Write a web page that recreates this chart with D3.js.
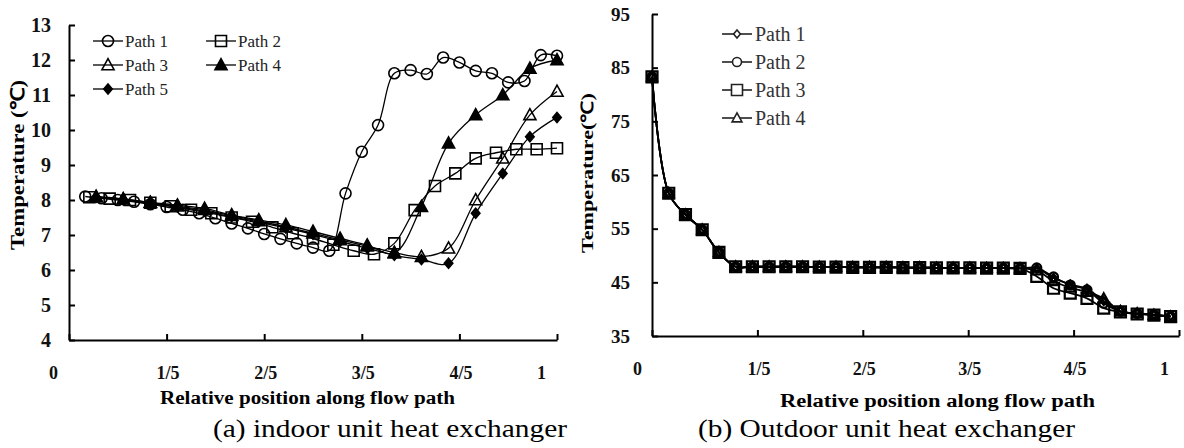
<!DOCTYPE html>
<html>
<head>
<meta charset="utf-8">
<script src="https://cdn.jsdelivr.net/npm/d3@7"></script>
<style>
body { margin: 0; background: #fff; }
text { font-family: "Liberation Serif", "Times New Roman", serif; }
</style>
</head>
<body>
<div id="chart"></div>
<script>
// (a) indoor unit: temperature at evenly spaced points along each path
const indoorNames = ["Path 1", "Path 2", "Path 3", "Path 4", "Path 5"];
const indoorPath1 = [8.10, 8.05, 8.00, 7.95, 7.88, 7.80, 7.72, 7.62, 7.48, 7.33, 7.19, 7.03, 6.89, 6.76, 6.64, 6.55,
                     8.19, 9.38, 10.14, 11.62, 11.71, 11.60, 12.07, 11.93, 11.69, 11.62, 11.36, 11.40, 12.14, 12.12];
const indoorPath2 = [8.08, 8.04, 8.00, 7.92, 7.82, 7.72, 7.62, 7.50, 7.38, 7.22, 7.05, 6.90, 6.72, 6.55, 6.45,
                     6.76, 7.71, 8.40, 8.76, 9.19, 9.35, 9.45, 9.45, 9.48];
const indoorPath3 = [8.08, 8.02, 7.92, 7.82, 7.72, 7.55, 7.40, 7.23, 7.05, 6.86, 6.68, 6.50, 6.38, 6.62, 8.00, 9.19, 10.43, 11.10];
const indoorPath4 = [8.10, 8.03, 7.93, 7.85, 7.76, 7.57, 7.43, 7.29, 7.10, 6.90, 6.71, 6.48, 7.81, 9.62, 10.43, 11.00, 11.76, 12.00];
const indoorPath5 = [8.08, 8.00, 7.90, 7.80, 7.68, 7.52, 7.37, 7.20, 7.02, 6.82, 6.62, 6.42, 6.30, 6.19, 7.62, 8.76, 9.81, 10.36];
const indoorYTicks = [4, 5, 6, 7, 8, 9, 10, 11, 12, 13];

// (b) outdoor unit: 32 points per path
const outdoorNames = ["Path 1", "Path 2", "Path 3", "Path 4"];
const outdoorPath1 = [83.3, 61.6, 57.6, 54.8, 50.6, 47.9, 47.9, 47.9, 47.9, 47.9, 47.85, 47.85, 47.8, 47.8, 47.8, 47.75,
                      47.75, 47.7, 47.7, 47.7, 47.65, 47.65, 47.6, 47.6, 45.8, 44.6, 43.8, 41.5, 39.6, 39.2, 39.0, 38.7];
const outdoorPath2 = [83.3, 61.6, 57.6, 54.8, 50.6, 47.9, 47.9, 47.9, 47.9, 47.9, 47.85, 47.85, 47.8, 47.8, 47.8, 47.75,
                      47.75, 47.7, 47.7, 47.7, 47.65, 47.65, 47.6, 47.7, 46.0, 44.5, 43.6, 41.1, 39.6, 39.2, 39.0, 38.6];
const outdoorPath3 = [83.3, 61.6, 57.6, 54.8, 50.6, 47.9, 47.9, 47.9, 47.9, 47.9, 47.85, 47.85, 47.8, 47.8, 47.8, 47.75,
                      47.75, 47.7, 47.7, 47.7, 47.65, 47.65, 47.6, 46.1, 43.9, 43.0, 42.0, 40.2, 39.5, 39.1, 38.9, 38.6];
const outdoorPath4 = [83.3, 61.6, 57.6, 54.8, 50.6, 47.9, 47.9, 47.9, 47.9, 47.9, 47.85, 47.85, 47.8, 47.8, 47.8, 47.75,
                      47.75, 47.7, 47.7, 47.7, 47.65, 47.65, 47.6, 47.2, 45.2, 44.0, 43.2, 42.0, 39.6, 39.2, 38.9, 38.6];
const outdoorYTicks = [35, 45, 55, 65, 75, 85, 95];

const xTickLabels = ["0", "1/5", "2/5", "3/5", "4/5", "1"];

// marker shapes centred on 0,0
function markerPath(type, s) {
    const h = s / 2;
    if (type === "circle") return d3.symbol(d3.symbolCircle, Math.PI * h * h)();
    if (type === "square") return `M${-h},${-h}H${h}V${h}H${-h}Z`;
    if (type === "triangle") return `M0,${-h * 1.15}L${h * 1.1},${h * 0.85}L${-h * 1.1},${h * 0.85}Z`;
    return `M0,${-h}L${h * 0.85},0L0,${h}L${-h * 0.85},0Z`;
}

function drawAxes(g, x, y, xTicks, yTicks, opt) {
    const yAxis = g.append("g")
        .attr("transform", `translate(${x.range()[0]},0)`)
        .call(d3.axisLeft(y).tickValues(yTicks).tickSize(-6).tickSizeOuter(0).tickPadding(opt.yPad));
    yAxis.select(".domain").attr("stroke-width", 2);
    yAxis.selectAll(".tick line").attr("stroke-width", 2);
    yAxis.selectAll("text")
        .attr("font-weight", "bold")
        .attr("font-size", opt.yFont).attr("fill", "#111");

    const xAxis = g.append("g")
        .attr("transform", `translate(0,${y.range()[0]})`)
        .call(d3.axisBottom(x).tickValues(xTicks).tickSize(-6).tickSizeOuter(0).tickPadding(opt.xPad)
            .tickFormat((d, i) => xTickLabels[i]));
    xAxis.select(".domain").attr("stroke-width", 2);
    xAxis.selectAll(".tick line").attr("stroke-width", 2);
    xAxis.selectAll("text")
        .attr("font-weight", "bold")
        .attr("font-size", opt.xFont).attr("fill", "#111")
        .attr("dx", (d, i) => (i === 0 || i === xTicks.length - 1) ? opt.endShift : 1);
}

function main() {
    const svg = d3.select("#chart").append("svg")
        .attr("width", 1184)
        .attr("height", 448);

    // ---------- (a) indoor ----------
    const gA = svg.append("g");
    const xA = d3.scaleLinear().domain([0, 1]).range([69, 557]);
    const yA = d3.scaleLinear().domain([4, 13]).range([340, 25]);

    drawAxes(gA, xA, yA, [0, 0.2, 0.4, 0.6, 0.8, 1], indoorYTicks,
        { yPad: 18, yFont: 20, xPad: 26, xFont: 18, endShift: -16 });

    const indoorSeries = [indoorPath1, indoorPath2, indoorPath3, indoorPath4, indoorPath5];
    const indoorShapes = [
        { type: "circle", size: 11, fill: "none" },
        { type: "square", size: 11, fill: "none" },
        { type: "triangle", size: 11, fill: "none" },
        { type: "triangle", size: 11, fill: "#000" },
        { type: "diamond", size: 10, fill: "#000" }
    ];

    const lineA = d3.line()
        .x(d => xA(d.x))
        .y(d => yA(d.v))
        .curve(d3.curveCatmullRom.alpha(0.5));

    indoorSeries.forEach((vals, k) => {
        const pts = vals.map((v, i) => ({ x: (i + 1) / vals.length, v: v }));
        gA.append("path")
            .datum(pts)
            .attr("d", lineA)
            .attr("fill", "none")
            .attr("stroke", "#000")
            .attr("stroke-width", 1.3);
        gA.selectAll(null)
            .data(pts)
            .join("path")
            .attr("transform", d => `translate(${xA(d.x)},${yA(d.v)})`)
            .attr("d", markerPath(indoorShapes[k].type, indoorShapes[k].size))
            .attr("fill", indoorShapes[k].fill)
            .attr("stroke", "#000")
            .attr("stroke-width", 1.6);
    });

    // legend (a)
    const legA = gA.append("g");
    indoorNames.forEach((name, k) => {
        const lx = k % 2 === 0 ? 93 : 206;
        const ly = 41 + Math.floor(k / 2) * 24;
        legA.append("line").attr("x1", lx).attr("x2", lx + 30).attr("y1", ly).attr("y2", ly)
            .attr("stroke", "#000").attr("stroke-width", 1.3);
        legA.append("path")
            .attr("transform", `translate(${lx + 15},${ly})`)
            .attr("d", markerPath(indoorShapes[k].type, indoorShapes[k].size))
            .attr("fill", indoorShapes[k].fill)
            .attr("stroke", "#000").attr("stroke-width", 1.6);
        legA.append("text").attr("x", lx + 32).attr("y", ly).attr("dy", "0.35em")
            .attr("font-size", 17).attr("fill", "#222").text(name);
    });

    gA.append("text")
        .attr("transform", "translate(17,165) rotate(-90)")
        .attr("text-anchor", "middle").attr("dy", "0.35em")
        .attr("font-weight", "bold").attr("font-size", 19)
        .attr("textLength", 170).attr("lengthAdjust", "spacingAndGlyphs")
        .text("Temperature (℃)");
    gA.append("text")
        .attr("x", 160).attr("y", 404)
        .attr("font-weight", "bold").attr("font-size", 18)
        .attr("textLength", 295).attr("lengthAdjust", "spacingAndGlyphs")
        .text("Relative position along flow path");
    gA.append("text")
        .attr("x", 213).attr("y", 437)
        .attr("font-size", 25).attr("fill", "#000")
        .attr("textLength", 354).attr("lengthAdjust", "spacingAndGlyphs")
        .text("(a) indoor unit heat exchanger");

    // ---------- (b) outdoor ----------
    const gB = svg.append("g");
    const nB = 31.5; // index units covered by the x axis
    const xB = d3.scaleLinear().domain([0, nB]).range([652, 1179]);
    const yB = d3.scaleLinear().domain([35, 95]).range([336, 14]);

    drawAxes(gB, xB, yB, d3.range(6).map(i => i * nB / 5), outdoorYTicks,
        { yPad: 22, yFont: 19, xPad: 26, xFont: 18, endShift: -15 });

    const outdoorSeries = [outdoorPath1, outdoorPath2, outdoorPath3, outdoorPath4];
    const outdoorShapes = [
        { type: "diamond", size: 8 },
        { type: "circle", size: 9 },
        { type: "square", size: 11 },
        { type: "triangle", size: 9 }
    ];

    const lineB = d3.line()
        .x((d, i) => xB(i))
        .y(d => yB(d))
        .curve(d3.curveCatmullRom.alpha(0.5));

    outdoorSeries.forEach((vals, k) => {
        gB.append("path")
            .datum(vals)
            .attr("d", lineB)
            .attr("fill", "none")
            .attr("stroke", "#000")
            .attr("stroke-width", 1.8);
    });
    outdoorSeries.forEach((vals, k) => {
        gB.selectAll(null)
            .data(vals)
            .join("path")
            .attr("transform", (d, i) => `translate(${xB(i)},${yB(d)})`)
            .attr("d", markerPath(outdoorShapes[k].type, outdoorShapes[k].size))
            .attr("fill", "none")
            .attr("stroke", "#000")
            .attr("stroke-width", 2.2);
    });

    // legend (b)
    const legB = gB.append("g");
    outdoorNames.forEach((name, k) => {
        const ly = 34 + k * 28;
        legB.append("line").attr("x1", 722).attr("x2", 752).attr("y1", ly).attr("y2", ly)
            .attr("stroke", "#222").attr("stroke-width", 1.6);
        legB.append("path")
            .attr("transform", `translate(737,${ly})`)
            .attr("d", markerPath(outdoorShapes[k].type, outdoorShapes[k].size))
            .attr("fill", "#fff")
            .attr("stroke", "#222").attr("stroke-width", 1.6);
        legB.append("text").attr("x", 755).attr("y", ly).attr("dy", "0.35em")
            .attr("font-size", 20).attr("fill", "#333").text(name);
    });

    gB.append("text")
        .attr("transform", "translate(587,173) rotate(-90)")
        .attr("text-anchor", "middle").attr("dy", "0.35em")
        .attr("font-weight", "bold").attr("font-size", 17)
        .attr("textLength", 160).attr("lengthAdjust", "spacingAndGlyphs")
        .text("Temperature(℃)");
    gB.append("text")
        .attr("x", 780).attr("y", 407)
        .attr("font-weight", "bold").attr("font-size", 18)
        .attr("textLength", 315).attr("lengthAdjust", "spacingAndGlyphs")
        .text("Relative position along flow path");
    gB.append("text")
        .attr("x", 698).attr("y", 437)
        .attr("font-size", 25).attr("fill", "#000")
        .attr("textLength", 377).attr("lengthAdjust", "spacingAndGlyphs")
        .text("(b) Outdoor unit heat exchanger");
}
main();
</script>
</body>
</html>
